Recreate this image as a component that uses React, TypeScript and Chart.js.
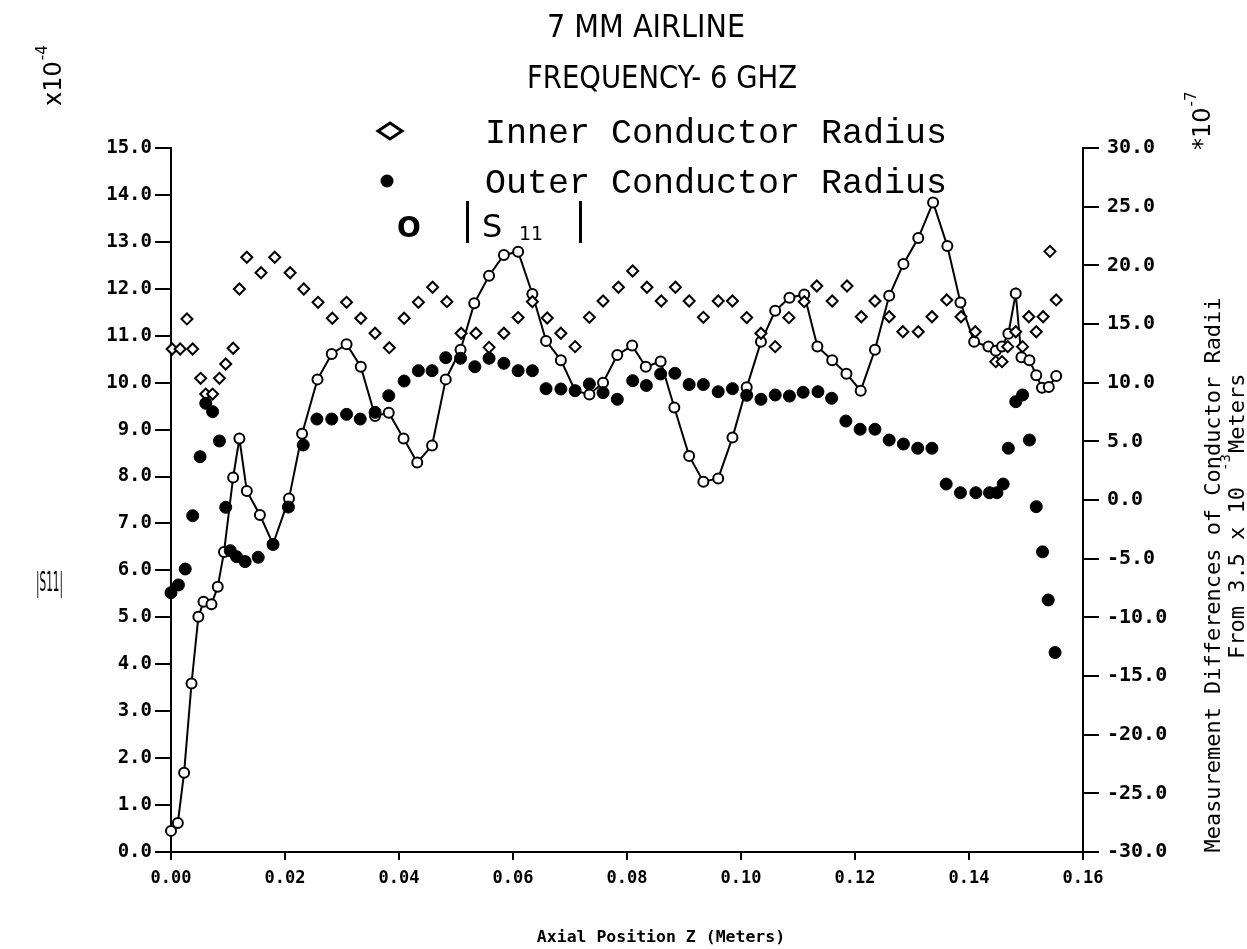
import { useEffect, useRef } from "react";
import { Chart, registerables } from "chart.js";
Chart.register(...registerables);

// |S11| (left axis, x10^-4)
const s11X = [0.0000,0.0012,0.0023,0.0036,0.0048,0.0057,0.0071,0.0082,0.0093,0.0109,
  0.0120,0.0133,0.0156,0.0179,0.0207,0.0230,0.0257,0.0282,0.0308,0.0333,
  0.0358,0.0382,0.0408,0.0432,0.0458,0.0482,0.0508,0.0532,0.0558,0.0584,
  0.0609,0.0634,0.0658,0.0684,0.0709,0.0734,0.0758,0.0783,0.0809,0.0833,
  0.0859,0.0883,0.0909,0.0934,0.0960,0.0985,0.1010,0.1035,0.1060,0.1085,
  0.1111,0.1134,0.1160,0.1185,0.1210,0.1235,0.1260,0.1285,0.1311,0.1337,
  0.1362,0.1385,0.1409,0.1434,0.1447,0.1458,0.1469,0.1482,0.1492,0.1506,
  0.1518,0.1528,0.1540,0.1553];
const s11Y = [0.45,0.62,1.69,3.59,5.01,5.33,5.28,5.65,6.39,7.98,
  8.81,7.69,7.18,6.56,7.53,8.91,10.07,10.61,10.82,10.34,
  9.29,9.36,8.81,8.30,8.66,10.07,10.70,11.69,12.28,12.72,
  12.79,11.89,10.89,10.48,9.83,9.75,10.00,10.59,10.79,10.34,
  10.45,9.47,8.44,7.89,7.96,8.83,9.90,10.87,11.53,11.81,
  11.88,10.77,10.48,10.19,9.83,10.70,11.85,12.53,13.08,13.84,
  12.91,11.71,10.87,10.77,10.68,10.77,11.04,11.90,10.54,10.48,
  10.16,9.89,9.91,10.14];

// Inner conductor radius (right axis, x10^-7)
const innerX = [0.0002,0.0016,0.0028,0.0038,0.0052,0.0061,0.0073,0.0085,0.0096,0.0109,
  0.0120,0.0133,0.0158,0.0182,0.0209,0.0233,0.0258,0.0283,0.0308,0.0333,
  0.0358,0.0383,0.0409,0.0434,0.0459,0.0484,0.0509,0.0535,0.0558,0.0584,
  0.0609,0.0634,0.0660,0.0684,0.0709,0.0734,0.0758,0.0785,0.0810,0.0835,
  0.0860,0.0885,0.0909,0.0934,0.0960,0.0985,0.1010,0.1035,0.1060,0.1084,
  0.1111,0.1133,0.1160,0.1186,0.1211,0.1235,0.1260,0.1284,0.1311,0.1335,
  0.1361,0.1386,0.1411,0.1447,0.1458,0.1468,0.1482,0.1494,0.1505,0.1518,
  0.1530,0.1542,0.1553];
const innerY = [12.87,12.87,15.43,12.87,10.37,9.03,9.03,10.37,11.59,12.93,
  17.98,20.69,19.37,20.69,19.37,17.98,16.85,15.49,16.85,15.49,
  14.21,12.98,15.49,16.85,18.13,16.90,14.21,14.21,13.01,14.21,
  15.55,16.90,15.51,14.21,13.07,15.57,16.96,18.13,19.52,18.13,
  16.96,18.13,16.96,15.57,16.96,16.96,15.55,14.21,13.07,15.54,
  16.90,18.24,16.96,18.24,15.62,16.96,15.62,14.34,14.34,15.62,
  17.05,15.62,14.34,11.79,11.79,13.07,14.34,13.07,15.62,14.34,
  15.62,21.19,17.05];

// Outer conductor radius (right axis, x10^-7)
const outerX = [0.0000,0.0013,0.0025,0.0038,0.0051,0.0061,0.0073,0.0085,0.0096,0.0104,
  0.0115,0.0130,0.0153,0.0179,0.0206,0.0232,0.0256,0.0282,0.0308,0.0332,
  0.0358,0.0382,0.0409,0.0434,0.0458,0.0482,0.0508,0.0533,0.0558,0.0584,
  0.0609,0.0634,0.0658,0.0684,0.0709,0.0734,0.0758,0.0783,0.0810,0.0834,
  0.0859,0.0884,0.0909,0.0934,0.0960,0.0985,0.1010,0.1035,0.1060,0.1085,
  0.1109,0.1135,0.1159,0.1184,0.1209,0.1235,0.1260,0.1285,0.1310,0.1335,
  0.1360,0.1385,0.1412,0.1436,0.1449,0.1460,0.1469,0.1482,0.1494,0.1506,
  0.1518,0.1529,0.1539,0.1551];
const outerY = [-7.90,-7.24,-5.88,-1.34,3.69,8.24,7.53,5.03,-0.62,-4.32,
  -4.83,-5.25,-4.88,-3.79,-0.60,4.69,6.90,6.90,7.30,6.90,
  7.47,8.89,10.14,11.02,11.02,12.13,12.08,11.36,12.08,11.65,
  11.02,11.02,9.49,9.46,9.32,9.89,9.15,8.58,10.17,9.76,
  10.74,10.80,9.84,9.84,9.23,9.49,8.92,8.58,8.95,8.86,
  9.18,9.23,8.67,6.73,6.03,6.03,5.11,4.77,4.41,4.41,
  1.36,0.62,0.62,0.62,0.62,1.36,4.41,8.38,8.95,5.11,
  -0.57,-4.42,-8.52,-13.00];

const xTicks = [0, 0.02, 0.04, 0.06, 0.08, 0.10, 0.12, 0.14, 0.16];
const leftTicks = [0,1,2,3,4,5,6,7,8,9,10,11,12,13,14,15];
const rightTicks = [-30,-25,-20,-15,-10,-5,0,5,10,15,20,25,30];

const W = 1247, H = 949;

const pts = (xs: number[], ys: number[]) => xs.map((x, i) => ({ x, y: ys[i] }));

const annotations = {
  id: "annotations",
  afterDraw(chart: any) {
    const ctx = chart.ctx as CanvasRenderingContext2D;
    ctx.save();
    ctx.fillStyle = "#000";
    ctx.strokeStyle = "#000";
    ctx.textBaseline = "alphabetic";
    // titles
    ctx.textAlign = "center";
    ctx.font = "32px 'DejaVu Sans'";
    ctx.fillText("7 MM AIRLINE", 646, 37, 198);
    ctx.fillText("FREQUENCY- 6 GHZ", 662, 88, 270);
    // legend
    ctx.lineWidth = 3;
    ctx.beginPath();
    ctx.moveTo(378, 131); ctx.lineTo(390, 123); ctx.lineTo(402, 131); ctx.lineTo(390, 139); ctx.closePath();
    ctx.stroke();
    ctx.beginPath(); ctx.arc(387, 181, 6.5, 0, Math.PI * 2); ctx.fill();
    ctx.textAlign = "left";
    ctx.font = "35px 'Liberation Mono'";
    ctx.fillText("Inner Conductor Radius", 485, 143, 462);
    ctx.fillText("Outer Conductor Radius", 485, 193, 464);
    ctx.font = "bold 28px 'DejaVu Sans'";
    ctx.fillText("O", 397, 237);
    ctx.fillRect(466, 201, 3, 42);
    ctx.fillRect(579, 201, 3, 42);
    ctx.font = "32px 'DejaVu Sans'";
    ctx.fillText("S", 482, 237);
    ctx.font = "19px 'DejaVu Sans'";
    ctx.fillText("11", 519, 240);
    // |S11| left label
    ctx.font = "26px 'DejaVu Sans'";
    ctx.fillText("|S11|", 36, 591, 27);
    // x axis title
    ctx.textAlign = "center";
    ctx.font = "bold 16.5px 'DejaVu Sans Mono'";
    ctx.fillText("Axial Position Z (Meters)", 661, 942);
    // rotated texts
    const rot = (fn: () => void, x: number, y: number) => {
      ctx.save(); ctx.translate(x, y); ctx.rotate(-Math.PI / 2); fn(); ctx.restore();
    };
    rot(() => {
      ctx.textAlign = "left";
      ctx.font = "24px 'DejaVu Sans'";
      ctx.fillText("x10", 0, 0);
      const w = ctx.measureText("x10").width;
      ctx.font = "15px 'DejaVu Sans'";
      ctx.fillText("-4", w + 1, -14);
    }, 61, 106);
    rot(() => {
      ctx.textAlign = "left";
      ctx.font = "24px 'DejaVu Sans'";
      ctx.fillText("*10", 0, 0);
      const w = ctx.measureText("*10").width;
      ctx.font = "15px 'DejaVu Sans'";
      ctx.fillText("-7", w + 1, -14);
    }, 1210, 150);
    rot(() => {
      ctx.textAlign = "center";
      ctx.font = "22px 'DejaVu Sans Mono'";
      ctx.fillText("Measurement Differences of Conductor Radii", 0, 0, 555);
    }, 1220, 575);
    rot(() => {
      ctx.textAlign = "center";
      ctx.font = "22px 'DejaVu Sans Mono'";
      ctx.fillText("From 3.5 x 10", -28, 0, 200);
      ctx.textAlign = "left";
      ctx.fillText("Meters", 92, 0, 90);
      ctx.font = "14px 'DejaVu Sans Mono'";
      ctx.fillText("-3", 74, -14);
    }, 1244, 545);
    ctx.restore();
  },
};

export default function App() {
  const ref = useRef<HTMLCanvasElement | null>(null);
  useEffect(() => {
    document.body.style.margin = "0";
    const canvas = ref.current!;
    const chart = new Chart(canvas, {
      type: "scatter",
      data: {
        datasets: [
          {
            label: "Outer Conductor Radius",
            data: pts(outerX, outerY),
            yAxisID: "y2",
            pointStyle: "circle",
            pointRadius: 6,
            pointBackgroundColor: "#000",
            pointBorderColor: "#000",
            pointBorderWidth: 1,
            showLine: false,
            clip: false,
          },
          {
            label: "Inner Conductor Radius",
            data: pts(innerX, innerY),
            yAxisID: "y2",
            pointStyle: "rectRot",
            pointRadius: 5.5,
            pointBackgroundColor: "#fff",
            pointBorderColor: "#000",
            pointBorderWidth: 2,
            showLine: false,
            clip: false,
          },
          {
            label: "|S11|",
            data: pts(s11X, s11Y),
            yAxisID: "y",
            pointStyle: "circle",
            pointRadius: 5,
            pointBackgroundColor: "#fff",
            pointBorderColor: "#000",
            pointBorderWidth: 2,
            borderColor: "#000",
            borderWidth: 2,
            showLine: true,
            tension: 0,
            clip: false,
          },
        ],
      },
      options: {
        responsive: false,
        animation: false,
        devicePixelRatio: 1,
        layout: { padding: { top: 148, left: 0, right: 0, bottom: 0 } },
        plugins: { legend: { display: false }, tooltip: { enabled: false }, title: { display: false } },
        scales: {
          x: {
            type: "linear",
            min: 0,
            max: 0.16,
            afterFit: (s: any) => { s.height = H - 852; },
            afterBuildTicks: (s: any) => { s.ticks = xTicks.map((v) => ({ value: v })); },
            ticks: {
              callback: (v: any) => Number(v).toFixed(2),
              font: { family: "'DejaVu Sans Mono'", size: 17, weight: "bold" },
              color: "#000",
              maxRotation: 0,
              padding: 8,
            },
            grid: { display: true, drawOnChartArea: false, drawTicks: true, tickLength: 8, color: "#000", lineWidth: 2 },
            border: { display: true, color: "#000", width: 2 },
          },
          y: {
            position: "left",
            min: 0,
            max: 15,
            afterFit: (s: any) => { s.width = 171; },
            afterBuildTicks: (s: any) => { s.ticks = leftTicks.map((v) => ({ value: v })); },
            ticks: {
              callback: (v: any) => Number(v).toFixed(1),
              font: { family: "'DejaVu Sans Mono'", size: 19, weight: "bold" },
              color: "#000",
              padding: 3,
            },
            grid: { display: true, drawOnChartArea: false, drawTicks: true, tickLength: 16, color: "#000", lineWidth: 2 },
            border: { display: true, color: "#000", width: 2 },
          },
          y2: {
            position: "right",
            min: -30,
            max: 30,
            afterFit: (s: any) => { s.width = W - 1083; },
            afterBuildTicks: (s: any) => { s.ticks = rightTicks.map((v) => ({ value: v })); },
            ticks: {
              callback: (v: any) => Number(v).toFixed(1),
              font: { family: "'DejaVu Sans Mono'", size: 20, weight: "bold" },
              color: "#000",
              padding: 8,
            },
            grid: { display: true, drawOnChartArea: false, drawTicks: true, tickLength: 16, color: "#000", lineWidth: 2 },
            border: { display: true, color: "#000", width: 2 },
          },
        },
      },
      plugins: [annotations],
    } as any);
    return () => chart.destroy();
  }, []);
  return (
    <div style={{ position: "absolute", left: 0, top: 0, width: W, height: H, background: "#fff" }}>
      <canvas ref={ref} width={W} height={H} style={{ display: "block", width: W, height: H }} />
    </div>
  );
}
